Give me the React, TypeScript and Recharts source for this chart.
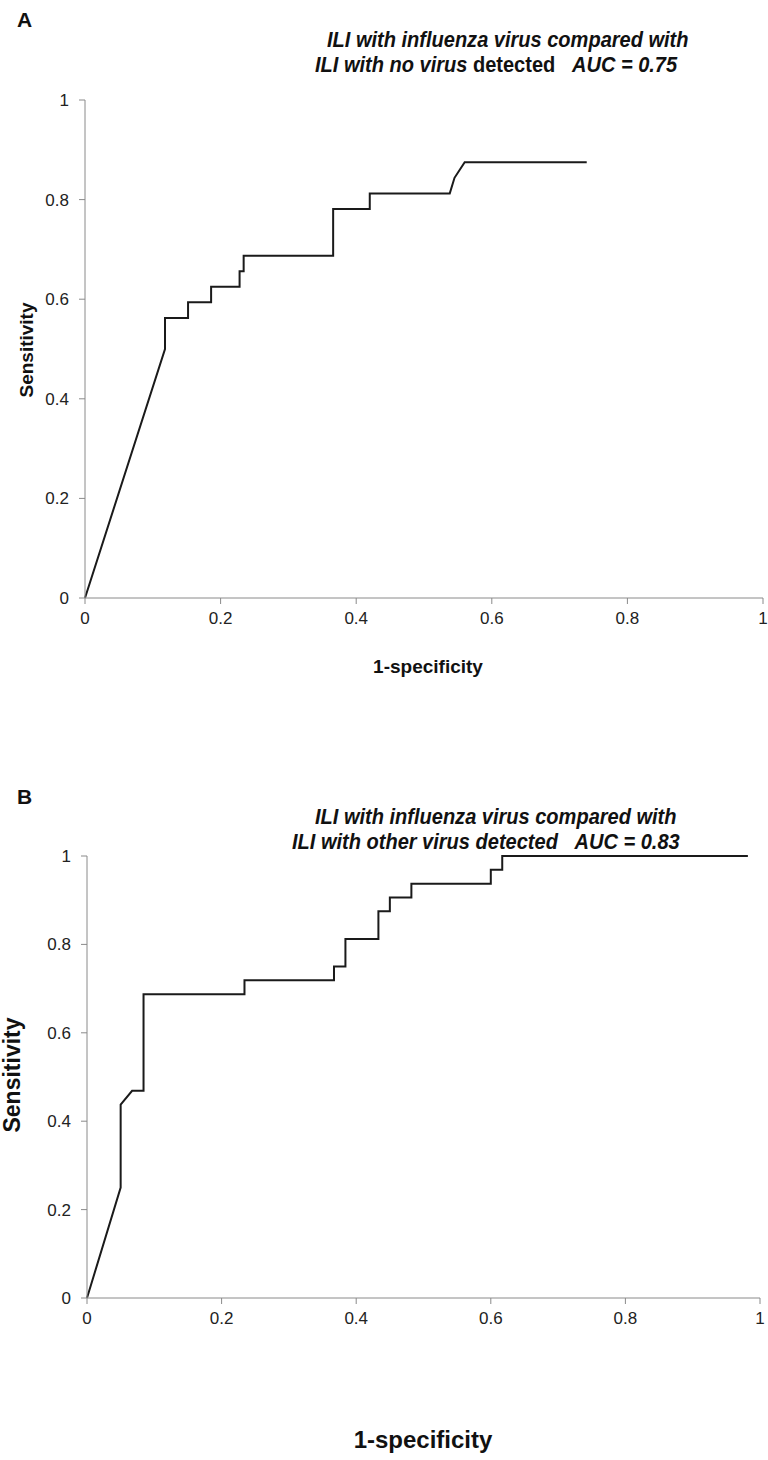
import { LineChart, Line, XAxis, YAxis } from 'recharts';

const NARROW = "'Liberation Sans Narrow', 'Arial Narrow', 'Liberation Sans', Arial, sans-serif";

const tickValues = [0, 0.2, 0.4, 0.6, 0.8, 1];

// panel A: influenza vs no virus detected
const noVirusFpr = [0, 0.118, 0.118, 0.152, 0.152, 0.186, 0.186, 0.228, 0.228, 0.234, 0.234, 0.366, 0.366, 0.42, 0.42, 0.538, 0.545, 0.56, 0.74];
const noVirusTpr = [0, 0.5, 0.5625, 0.5625, 0.59375, 0.59375, 0.625, 0.625, 0.65625, 0.65625, 0.6875, 0.6875, 0.78125, 0.78125, 0.8125, 0.8125, 0.84375, 0.875, 0.875];

// panel B: influenza vs other virus detected
const otherVirusFpr = [0, 0.05, 0.05, 0.067, 0.084, 0.084, 0.234, 0.234, 0.367, 0.367, 0.384, 0.384, 0.433, 0.433, 0.45, 0.45, 0.482, 0.482, 0.6, 0.6, 0.617, 0.617, 0.982];
const otherVirusTpr = [0, 0.25, 0.4375, 0.46875, 0.46875, 0.6875, 0.6875, 0.71875, 0.71875, 0.75, 0.75, 0.8125, 0.8125, 0.875, 0.875, 0.90625, 0.90625, 0.9375, 0.9375, 0.96875, 0.96875, 1, 1];

const toPoints = (xs: number[], ys: number[]) => xs.map((x, i) => ({ x, y: ys[i] }));

const axisColor = '#8a8a8a';

interface PanelProps {
  data: { x: number; y: number }[];
  top: number;
  height: number;
  marginTop: number;
  marginRight: number;
  yAxisWidth: number;
}

function RocPanel({ data, top, height, marginTop, marginRight, yAxisWidth }: PanelProps) {
  const tick = { fill: '#222', fontSize: 17, fontFamily: NARROW };
  return (
    <div style={{ position: 'absolute', left: 0, top }}>
      <LineChart width={768} height={height} data={data} margin={{ top: marginTop, right: marginRight, left: 0, bottom: 0 }}>
        <XAxis
          type="number"
          dataKey="x"
          domain={[0, 1]}
          ticks={tickValues}
          tickFormatter={(v: number) => String(v)}
          height={42}
          tickSize={6}
          tickMargin={8}
          axisLine={{ stroke: axisColor }}
          tickLine={{ stroke: axisColor }}
          tick={tick}
          interval={0}
        />
        <YAxis
          type="number"
          domain={[0, 1]}
          ticks={tickValues}
          tickFormatter={(v: number) => String(v)}
          width={yAxisWidth}
          tickSize={6}
          tickMargin={10}
          axisLine={{ stroke: axisColor }}
          tickLine={{ stroke: axisColor }}
          tick={tick}
          interval={0}
        />
        <Line
          type="linear"
          dataKey="y"
          stroke="#1a1a1a"
          strokeWidth={2}
          dot={false}
          isAnimationActive={false}
        />
      </LineChart>
    </div>
  );
}

const textBase = { position: 'absolute' as const, fontFamily: NARROW, fontWeight: 700, color: '#111', whiteSpace: 'nowrap' as const };
// the original uses a condensed face; squeeze the titles a little
const squeeze = { transform: 'scaleX(0.91)', transformOrigin: 'left center' };

export default function App() {
  return (
    <div style={{ position: 'absolute', left: 0, top: 0, width: 768, height: 1460, background: '#fff', overflow: 'hidden' }}>
      <RocPanel data={toPoints(noVirusFpr, noVirusTpr)} top={0} height={640} marginTop={100} marginRight={5} yAxisWidth={85} />
      <RocPanel data={toPoints(otherVirusFpr, otherVirusTpr)} top={760} height={580} marginTop={96} marginRight={8} yAxisWidth={87} />

      <div style={{ ...textBase, left: 17, top: 8, fontSize: 21 }}>A</div>
      <div style={{ ...textBase, ...squeeze, left: 327, top: 27, fontSize: 22, fontStyle: 'italic' }}>ILI with influenza virus compared with</div>
      <div style={{ ...textBase, ...squeeze, left: 315, top: 52, fontSize: 22 }}>
        <i>ILI with no virus</i> detected&nbsp;&nbsp;&nbsp;<i>AUC = 0.75</i>
      </div>
      <div style={{ ...textBase, left: 27, top: 350, fontSize: 19, transform: 'translate(-50%, -50%) rotate(-90deg)' }}>Sensitivity</div>
      <div style={{ ...textBase, left: 428, top: 667, fontSize: 19, transform: 'translate(-50%, -50%)' }}>1-specificity</div>

      <div style={{ ...textBase, left: 17, top: 785, fontSize: 21 }}>B</div>
      <div style={{ ...textBase, ...squeeze, left: 315, top: 804, fontSize: 22, fontStyle: 'italic' }}>ILI with influenza virus compared with</div>
      <div style={{ ...textBase, ...squeeze, left: 292, top: 829, fontSize: 22, fontStyle: 'italic' }}>
        ILI with other virus detected&nbsp;&nbsp;&nbsp;AUC = 0.83
      </div>
      <div style={{ ...textBase, left: 12, top: 1075, fontSize: 23, transform: 'translate(-50%, -50%) rotate(-90deg)' }}>Sensitivity</div>
      <div style={{ ...textBase, left: 423, top: 1440, fontSize: 24, transform: 'translate(-50%, -50%)' }}>1-specificity</div>
    </div>
  );
}
